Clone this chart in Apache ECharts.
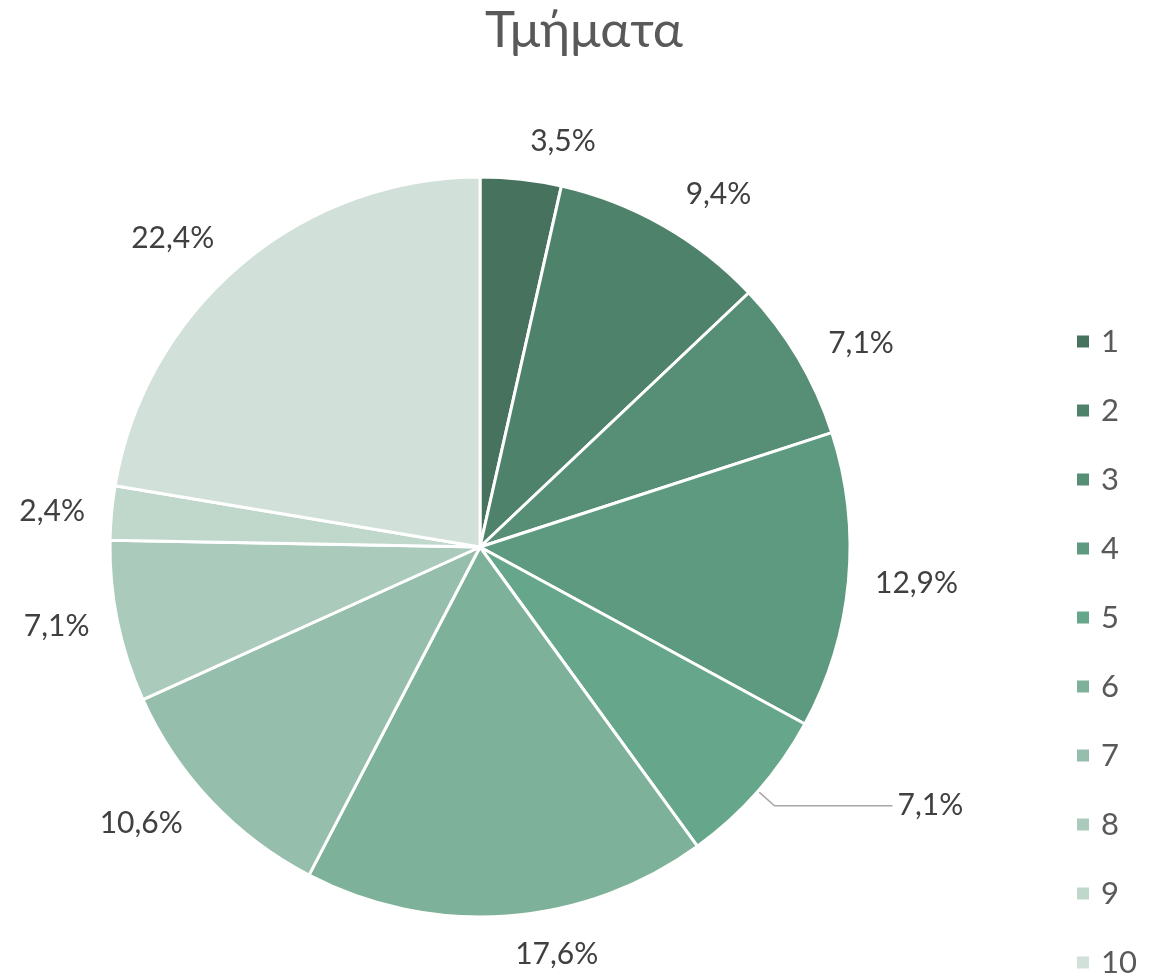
<!DOCTYPE html>
<html>
<head>
<meta charset="utf-8">
<script src="https://cdn.jsdelivr.net/npm/echarts@6/dist/echarts.min.js"></script>
<style>html,body{margin:0;padding:0;background:#fff;}#c{width:1168px;height:979px;}</style>
</head>
<body>
<div id="c"></div>
<script>
const titleText = 'Τμήματα';
const categories = ['1','2','3','4','5','6','7','8','9','10'];
const counts = [3, 8, 6, 11, 6, 15, 9, 6, 2, 19];
const colors = ['#46725E','#4F826B','#578E76','#5E9A80','#66A68A','#7DB199','#96BEAC','#AACABC','#C0D8CC','#D1E0D9'];

const total = counts.reduce((a, b) => a + b, 0);
const fontFam = '"Lato", "Open Sans", "DejaVu Sans", sans-serif';

// label offset grows when the label sits above/below the pie (text height)
let cum = 0;
const data = categories.map((c, i) => {
  const mid = (cum + counts[i] / 2) / total * 2 * Math.PI;
  cum += counts[i];
  const len = 20 + 18 * Math.abs(Math.cos(mid));
  const item = { name: c, value: counts[i], itemStyle: { color: colors[i] },
    labelLine: { show: false, length: len, length2: 0 } };
  if (i === 4) {
    item.labelLine = { show: true, length: 22, length2: 118, lineStyle: { color: '#A6A6A6', width: 1.5 } };
  }
  return item;
});

const chart = echarts.init(document.getElementById('c'));
chart.setOption({
  animation: false,
  backgroundColor: '#ffffff',
  title: {
    text: titleText, left: 'center', top: 0,
    textStyle: { fontFamily: fontFam, fontSize: 51, fontWeight: 'normal', color: '#595959' }
  },
  legend: {
    orient: 'vertical', left: 1070, top: 321, height: 700,
    itemWidth: 14, itemHeight: 14, itemGap: 38,
    icon: 'rect',
    data: categories,
    textStyle: { fontFamily: fontFam, fontSize: 31, color: '#595959', padding: [0, 0, 0, 6] }
  },
  series: [{
    type: 'pie',
    center: [480, 547],
    radius: [0, 370],
    startAngle: 90,
    clockwise: true,
    avoidLabelOverlap: false,
    itemStyle: { borderColor: '#ffffff', borderWidth: 3 },
    label: {
      show: true, position: 'outside',
      fontFamily: fontFam, fontSize: 30, color: '#404040',
      distanceToLabelLine: 5,
      formatter: p => (p.value / total * 100).toFixed(1).replace('.', ',') + '%'
    },
    emphasis: { disabled: true },
    data: data
  }]
});
</script>
</body>
</html>
